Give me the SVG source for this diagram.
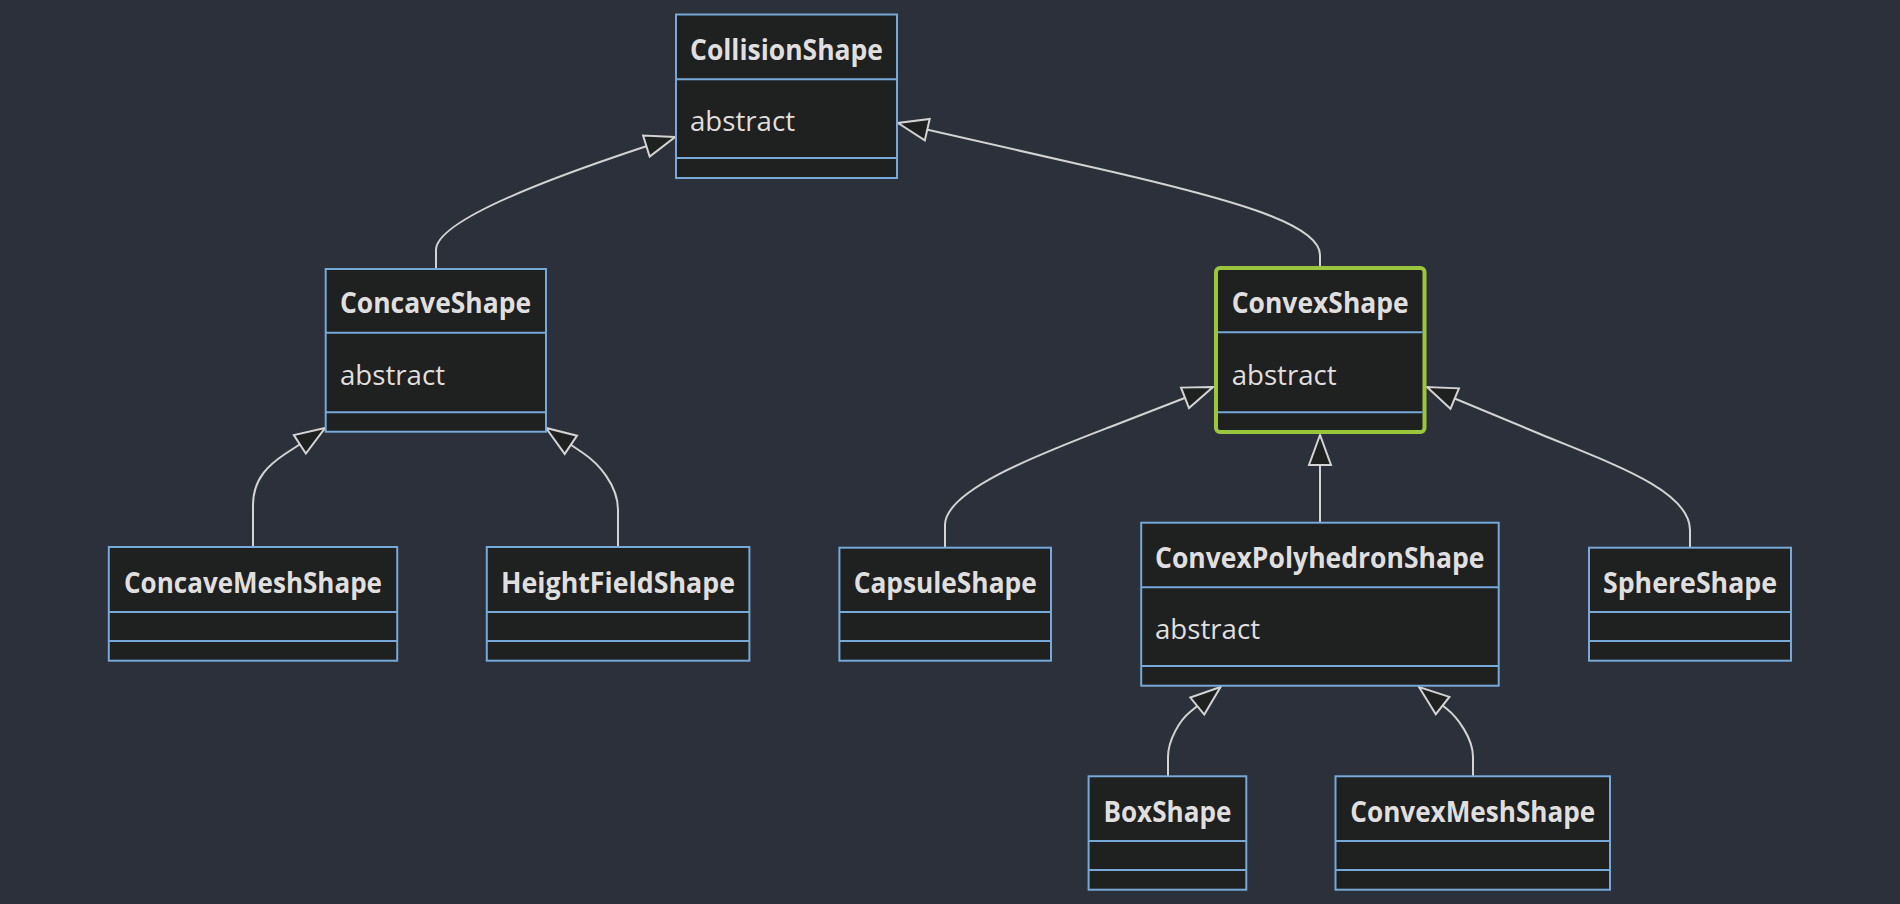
<svg xmlns="http://www.w3.org/2000/svg" width="1900" height="904" viewBox="0 0 1900 904">
<style>
.box{fill:#1f2020;stroke:#76a8d8;stroke-width:2}
.hl{fill:#1f2020;stroke:#9bc53d;stroke-width:4}
.div{stroke:#76a8d8;stroke-width:2}
.t{font-family:"Open Sans","Liberation Sans",sans-serif;font-size:28px;fill:#e0dfdf}
.b{font-weight:bold}
.edge{fill:none;stroke:#d3d3d3;stroke-width:2}
</style>
<defs>
<marker id="ext" markerUnits="userSpaceOnUse" markerWidth="36" markerHeight="28" viewBox="-32 -14 36 28" refX="0" refY="0" orient="auto" overflow="visible">
<path d="M0,0 L-30,-11 L-30,11 Z" fill="#1f2020" stroke="#d3d3d3" stroke-width="2" stroke-linejoin="miter"/>
</marker>
</defs>
<rect width="1900" height="904" fill="#2b303b"/>
<g id="connectors">
<path class="edge" d="M436,269 L436,250 C436,225 520,190 600,162 Q640,148 675,137" marker-end="url(#ext)"/>
<path class="edge" d="M1320,266 L1320,255 C1320,225 1240,201 1100,169 L898,123" marker-end="url(#ext)"/>
<path class="edge" d="M945,548 L945,525 C945,490 1040,454 1110,427 L1213,387" marker-end="url(#ext)"/>
<path class="edge" d="M1690,548 L1690,530 C1690,490 1610,463 1540,434 L1427,387" marker-end="url(#ext)"/>
<path class="edge" d="M1320,523 L1320,435" marker-end="url(#ext)"/>
<path class="edge" d="M253,547 L253,505 C253,478 270,464 285,454 L325,428" marker-end="url(#ext)"/>
<path class="edge" d="M618,547 L618,510 C618,485 598,463 583,453 L546,428" marker-end="url(#ext)"/>
<path class="edge" d="M1168,776 L1168,757 C1168,740 1180,720 1190,712 L1220.5,687" marker-end="url(#ext)"/>
<path class="edge" d="M1473,776 L1473,757 C1473,738 1457,717 1447,709 L1419,687" marker-end="url(#ext)"/>
</g>
<g id="CollisionShape">
<rect class="box" x="676" y="14.5" width="221" height="163.5"/>
<line class="div" x1="676" y1="79.3" x2="897" y2="79.3"/>
<line class="div" x1="676" y1="158" x2="897" y2="158"/>
<text class="t b" x="690" y="60" textLength="193" lengthAdjust="spacingAndGlyphs">CollisionShape</text>
<text class="t" x="690" y="131" textLength="105" lengthAdjust="spacingAndGlyphs">abstract</text>
</g>
<g id="ConcaveShape">
<rect class="box" x="325.7" y="269" width="220.3" height="162.7"/>
<line class="div" x1="325.7" y1="332.7" x2="546" y2="332.7"/>
<line class="div" x1="325.7" y1="412.3" x2="546" y2="412.3"/>
<text class="t b" x="340" y="313" textLength="191" lengthAdjust="spacingAndGlyphs">ConcaveShape</text>
<text class="t" x="340" y="385" textLength="105" lengthAdjust="spacingAndGlyphs">abstract</text>
</g>
<g id="ConvexShape">
<rect class="hl" x="1216" y="268" width="208.5" height="164" rx="4"/>
<line class="div" x1="1218" y1="332.3" x2="1422.5" y2="332.3"/>
<line class="div" x1="1218" y1="412.3" x2="1422.5" y2="412.3"/>
<text class="t b" x="1231.7" y="313" textLength="177" lengthAdjust="spacingAndGlyphs">ConvexShape</text>
<text class="t" x="1231.7" y="385" textLength="105" lengthAdjust="spacingAndGlyphs">abstract</text>
</g>
<g id="ConcaveMeshShape">
<rect class="box" x="108.8" y="547" width="288.4" height="113.7"/>
<line class="div" x1="108.8" y1="612" x2="397.2" y2="612"/>
<line class="div" x1="108.8" y1="641" x2="397.2" y2="641"/>
<text class="t b" x="124" y="592.7" textLength="258" lengthAdjust="spacingAndGlyphs">ConcaveMeshShape</text>
</g>
<g id="HeightFieldShape">
<rect class="box" x="486.8" y="547" width="262.6" height="113.7"/>
<line class="div" x1="486.8" y1="612" x2="749.4" y2="612"/>
<line class="div" x1="486.8" y1="641" x2="749.4" y2="641"/>
<text class="t b" x="501" y="592.7" textLength="234" lengthAdjust="spacingAndGlyphs">HeightFieldShape</text>
</g>
<g id="CapsuleShape">
<rect class="box" x="839.4" y="547.7" width="211.6" height="113"/>
<line class="div" x1="839.4" y1="612" x2="1051" y2="612"/>
<line class="div" x1="839.4" y1="641" x2="1051" y2="641"/>
<text class="t b" x="853.7" y="592.5" textLength="183" lengthAdjust="spacingAndGlyphs">CapsuleShape</text>
</g>
<g id="ConvexPolyhedronShape">
<rect class="box" x="1141.2" y="522.7" width="357.5" height="163"/>
<line class="div" x1="1141.2" y1="587.3" x2="1498.7" y2="587.3"/>
<line class="div" x1="1141.2" y1="666" x2="1498.7" y2="666"/>
<text class="t b" x="1155" y="568.3" textLength="329.5" lengthAdjust="spacingAndGlyphs">ConvexPolyhedronShape</text>
<text class="t" x="1155" y="639.3" textLength="105" lengthAdjust="spacingAndGlyphs">abstract</text>
</g>
<g id="SphereShape">
<rect class="box" x="1589" y="547.7" width="202" height="113"/>
<line class="div" x1="1589" y1="612" x2="1791" y2="612"/>
<line class="div" x1="1589" y1="641" x2="1791" y2="641"/>
<text class="t b" x="1603" y="592.5" textLength="174" lengthAdjust="spacingAndGlyphs">SphereShape</text>
</g>
<g id="BoxShape">
<rect class="box" x="1088.6" y="776.3" width="157.7" height="113.4"/>
<line class="div" x1="1088.6" y1="841" x2="1246.3" y2="841"/>
<line class="div" x1="1088.6" y1="870" x2="1246.3" y2="870"/>
<text class="t b" x="1103.4" y="821.7" textLength="128" lengthAdjust="spacingAndGlyphs">BoxShape</text>
</g>
<g id="ConvexMeshShape">
<rect class="box" x="1335.5" y="776.3" width="274.5" height="113.4"/>
<line class="div" x1="1335.5" y1="841" x2="1610" y2="841"/>
<line class="div" x1="1335.5" y1="870" x2="1610" y2="870"/>
<text class="t b" x="1350.3" y="821.7" textLength="245" lengthAdjust="spacingAndGlyphs">ConvexMeshShape</text>
</g>
</svg>
